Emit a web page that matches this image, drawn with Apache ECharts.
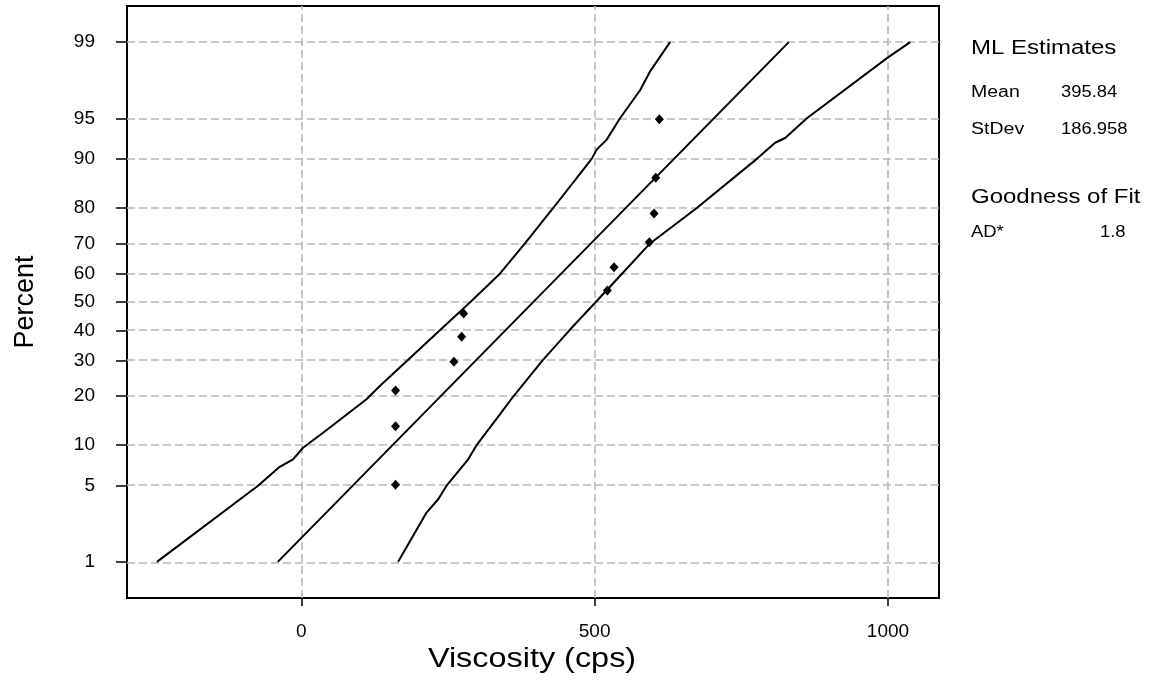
<!DOCTYPE html>
<html>
<head>
<meta charset="utf-8">
<script src="https://cdn.jsdelivr.net/npm/echarts@6/dist/echarts.min.js"></script>
<style>
  html, body { margin: 0; padding: 0; background: #fff; }
  #chart { width: 1160px; height: 687px; }
</style>
</head>
<body>
<div id="chart"></div>
<script>
// percent tick labels on the probability axis
var pctTicks = [1, 5, 10, 20, 30, 40, 50, 60, 70, 80, 90, 95, 99];
var xTicks = [0, 500, 1000];

// observed data (viscosity, plotting percent)
var obsValue = [160.7, 160.7, 160.7, 260.2, 273.3, 276.7, 521.7, 533.1, 593.3, 601.3, 604.2, 610.4];
var obsPct = [5.1, 13.3, 21.4, 29.6, 37.8, 45.9, 54.1, 62.2, 70.4, 78.6, 86.7, 94.9];

// fitted line
var fitValue = [-40, 831];
var fitPct = [1, 99];

// confidence bands
var upperValue = [-246, -73.7, -36.7, -14, 3, 37.2, 111.2, 133.9, 180.8, 236.3, 288.3, 338.6, 381.3, 429.5, 495, 503.6, 520.6, 543.3, 577.5, 594.5, 628.6];
var upperPct = [1, 5, 7, 7.95, 9.6, 12.1, 19.2, 22.6, 30, 40, 50, 60, 70, 80, 90, 91.4, 92.7, 95, 97.1, 98.05, 99];
var lowerValue = [165.1, 213.6, 233.4, 247.7, 284.5, 298.9, 338.6, 362, 411, 457, 502, 540.4, 594.5, 674.2, 776.5, 807.7, 824.8, 861.8, 998.3, 1038];
var lowerPct = [1, 2.97, 3.87, 5, 7.95, 10, 15.7, 20, 30, 40, 50, 58.6, 70, 80, 90, 92.3, 92.9, 95, 98.55, 99];

// side panel text
var panelLabels = ['Mean', 'StDev'];
var panelValues = ['395.84', '186.958'];
var fitLabel = 'AD*';
var fitStat = '1.8';

// inverse normal cdf (Acklam) - maps percent onto the probability scale
function probit(p) {
  var a = [-3.969683028665376e+01, 2.209460984245205e+02, -2.759285104469687e+02, 1.383577518672690e+02, -3.066479806614716e+01, 2.506628277459239e+00];
  var b = [-5.447609879822406e+01, 1.615858368580409e+02, -1.556989798598866e+02, 6.680131188771972e+01, -1.328068155288572e+01];
  var c = [-7.784894002430293e-03, -3.223964580411365e-01, -2.400758277161838e+00, -2.549671010229583e+00, 4.374664141464968e+00, 2.938163982698783e+00];
  var d = [7.784695709041462e-03, 3.224671290700398e-01, 2.445134137142996e+00, 3.754408661907416e+00];
  var pl = 0.02425, q, r;
  if (p < pl) {
    q = Math.sqrt(-2 * Math.log(p));
    return (((((c[0]*q+c[1])*q+c[2])*q+c[3])*q+c[4])*q+c[5]) / ((((d[0]*q+d[1])*q+d[2])*q+d[3])*q+1);
  }
  if (p > 1 - pl) {
    q = Math.sqrt(-2 * Math.log(1 - p));
    return -(((((c[0]*q+c[1])*q+c[2])*q+c[3])*q+c[4])*q+c[5]) / ((((d[0]*q+d[1])*q+d[2])*q+d[3])*q+1);
  }
  q = p - 0.5; r = q * q;
  return (((((a[0]*r+a[1])*r+a[2])*r+a[3])*r+a[4])*r+a[5])*q / (((((b[0]*r+b[1])*r+b[2])*r+b[3])*r+b[4])*r+1);
}
function z(pct) { return probit(pct / 100); }
function pairs(vals, pcts) {
  return vals.map(function (v, i) { return [v, z(pcts[i])]; });
}

var zTicks = pctTicks.map(z);
var gridColor = '#b8b8b8';
var font = 'Liberation Sans, Arial, sans-serif';

function txt(x, y, s, size, sx) {
  return {
    type: 'text', x: x, y: y, scaleX: sx || 1,
    style: { text: s, font: size + 'px ' + font, fill: '#000', verticalAlign: 'middle', align: 'left' }
  };
}

var myChart = echarts.init(document.getElementById('chart'));
var option = {
  animation: false,
  backgroundColor: '#fff',
  grid: {
    left: 127, right: 221, top: 6, bottom: 89,
    show: true, borderColor: '#000', borderWidth: 2, backgroundColor: 'transparent'
  },
  xAxis: {
    type: 'value',
    min: -297, max: 1087,
    axisLine: { show: false, onZero: false },
    axisTick: { show: true, customValues: xTicks, length: 8, lineStyle: { color: '#000', width: 1.5 } },
    axisLabel: {
      customValues: xTicks, margin: 24, fontSize: 19, color: '#000', fontFamily: font,
      formatter: function (val) { return String(val); }
    },
    splitLine: { show: false }
  },
  yAxis: {
    type: 'value',
    min: -2.65, max: 2.65,
    name: 'Percent',
    nameLocation: 'middle',
    nameGap: 88,
    nameTextStyle: { fontSize: 27, color: '#000', fontFamily: font },
    axisLine: { show: false, onZero: false },
    axisTick: { show: true, customValues: zTicks, length: 11, lineStyle: { color: '#000', width: 1.5 } },
    axisLabel: {
      customValues: zTicks, margin: 32, fontSize: 19, color: '#000', fontFamily: font,
      formatter: function (val) {
        for (var i = 0; i < zTicks.length; i++) {
          if (Math.abs(zTicks[i] - val) < 1e-6) return String(pctTicks[i]);
        }
        return '';
      }
    },
    splitLine: { show: false }
  },
  series: [
    {
      name: 'gridlines',
      type: 'scatter',
      data: [],
      silent: true,
      z: 1,
      markLine: {
        z: 1,
        silent: true,
        symbol: ['none', 'none'],
        label: { show: false },
        lineStyle: { type: [8, 4], color: gridColor, width: 1.6 },
        data: zTicks.map(function (v) { return { yAxis: v }; })
          .concat(xTicks.map(function (v) { return { xAxis: v }; }))
      }
    },
    {
      name: 'Upper CI', type: 'line', data: pairs(upperValue, upperPct),
      symbol: 'none', z: 3, lineStyle: { color: '#000', width: 2 }
    },
    {
      name: 'Fit', type: 'line', data: pairs(fitValue, fitPct),
      symbol: 'none', z: 3, lineStyle: { color: '#000', width: 2 }
    },
    {
      name: 'Lower CI', type: 'line', data: pairs(lowerValue, lowerPct),
      symbol: 'none', z: 3, lineStyle: { color: '#000', width: 2 }
    },
    {
      name: 'Viscosity', type: 'scatter', data: pairs(obsValue, obsPct),
      symbol: 'diamond', symbolSize: [9, 10], z: 6, itemStyle: { color: '#000', opacity: 1 }
    }
  ],
  graphic: [
    txt(971, 48, 'ML Estimates', 20, 1.2),
    txt(971, 93, panelLabels[0], 16, 1.22),
    txt(1061, 93, panelValues[0], 16, 1.15),
    txt(971, 130, panelLabels[1], 16, 1.22),
    txt(1061, 130, panelValues[1], 16, 1.15),
    txt(971, 197, 'Goodness of Fit', 20, 1.2),
    txt(971, 233, fitLabel, 16, 1.15),
    txt(1100, 233, fitStat, 16, 1.15),
    {
      type: 'text', x: 532, y: 660, scaleX: 1.2,
      style: { text: 'Viscosity (cps)', font: '27px ' + font, fill: '#000', align: 'center', verticalAlign: 'middle' }
    }
  ]
};
myChart.setOption(option, true);
window.addEventListener('resize', function () {
  myChart.resize();
});
</script>
</body>
</html>
